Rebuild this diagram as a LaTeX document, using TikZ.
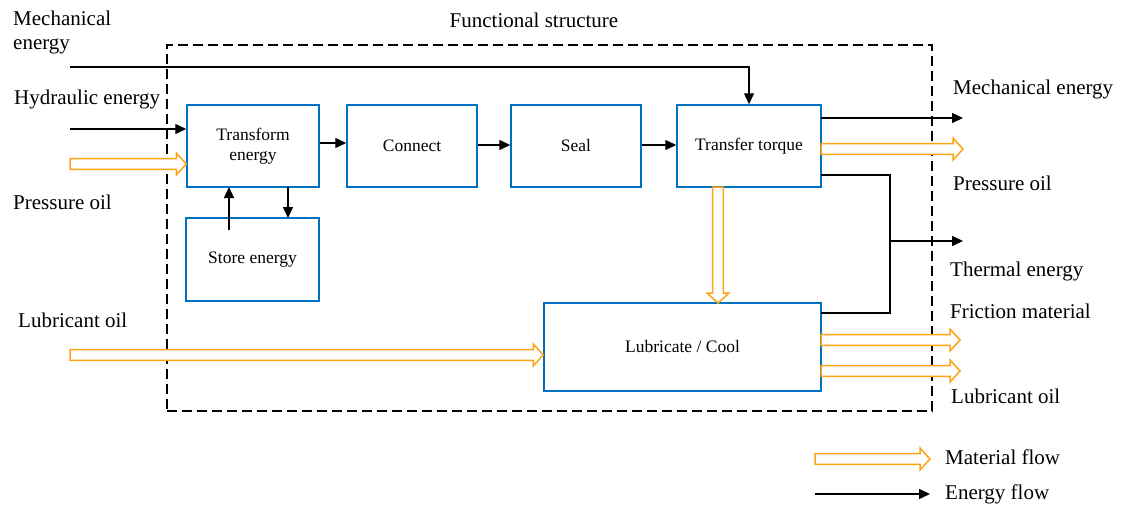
\documentclass[tikz,border=0pt]{standalone}
\usepackage{fontspec}
\setmainfont{Liberation Serif}
\usetikzlibrary{arrows.meta,calc,shadows}
\definecolor{boxblue}{RGB}{0,112,192}
\definecolor{oilorange}{RGB}{255,162,20}
\tikzset{
  fbox/.style={draw=boxblue, line width=1.5pt, fill=white, align=center,
    font=\fontsize{17.5}{20}\selectfont,
    drop shadow={opacity=0.25, shadow xshift=1.2pt, shadow yshift=-1.2pt}},
  eflow/.style={draw=black, line width=1.4pt, -{Triangle[length=11pt,width=10pt]}},
  eline/.style={draw=black, line width=1.4pt},
  mflow/.style={draw=oilorange, line width=1.5pt, fill=white, line join=miter},
  lbl/.style={font=\fontsize{21}{24}\selectfont, anchor=west, inner sep=0pt},
  frame/.style={draw=black, line width=1.5pt, dash pattern=on 10pt off 5pt}
}
\newcommand\mflowh[2]{%
  \draw[mflow] let \p1=(#1), \p2=(#2) in
    (\x1,\y1+5.3pt) -- (\x2-10pt,\y1+5.3pt) -- (\x2-10pt,\y1+11pt) -- (\x2,\y1)
    -- (\x2-10pt,\y1-11pt) -- (\x2-10pt,\y1-5.3pt) -- (\x1,\y1-5.3pt) -- cycle;}
\newcommand\mflowv[2]{%
  \draw[mflow] let \p1=(#1), \p2=(#2) in
    (\x1-5.3pt,\y1) -- (\x1-5.3pt,\y2+10pt) -- (\x1-11pt,\y2+10pt) -- (\x1,\y2)
    -- (\x1+11pt,\y2+10pt) -- (\x1+5.3pt,\y2+10pt) -- (\x1+5.3pt,\y1) -- cycle;}
\begin{document}
\begin{tikzpicture}[x=1pt,y=-1pt]
\useasboundingbox (0,0) rectangle (1121,506);
% frame
\node[frame, minimum width=765pt, minimum height=366pt, inner sep=0pt] (fr) at (549.5,228) {};
\node[font=\fontsize{21}{24}\selectfont, inner sep=0pt] (ftitle) at (534,20) {Functional structure};
% boxes
\node[fbox, minimum width=132pt, minimum height=82pt] (te) at (253,146) {Transform\\energy};
\node[fbox, minimum width=130pt, minimum height=82pt] (cn) at (412,146) {Connect};
\node[fbox, minimum width=130pt, minimum height=82pt] (se) at (576,146) {Seal};
\node[fbox, minimum width=144pt, minimum height=82pt] (tt) at (749,146) {Transfer torque};
\node[fbox, minimum width=133pt, minimum height=83pt] (st) at (252.5,259.5) {Store energy};
\node[fbox, minimum width=277pt, minimum height=88pt] (lc) at (682.5,347) {Lubricate / Cool};
% left labels
\node[lbl, align=left] (lme) at (13,32) {Mechanical\\energy};
\node[lbl] (lhe) at (14,99) {Hydraulic energy};
\node[lbl] (lpo) at (13,202) {Pressure oil};
\node[lbl] (llo) at (18,320) {Lubricant oil};
% right labels
\node[lbl] (rme) at (953,89) {Mechanical energy};
\node[lbl] (rpo) at (953,183) {Pressure oil};
\node[lbl] (rte) at (950,271) {Thermal energy};
\node[lbl] (rfm) at (950,311) {Friction material};
\node[lbl] (rlo) at (951,396) {Lubricant oil};
% legend
\node[lbl] (lgm) at (945,457) {Material flow};
\node[lbl] (lge) at (945,494) {Energy flow};
% coordinates
\coordinate (mi) at (70,67);
\coordinate (hi) at (70,129);
\coordinate (pi) at (70,164);
\coordinate (li) at (70,355);
\coordinate (omech) at (963,118);
\coordinate (tte1) at (821,118);
\coordinate (tte2) at (821,149);
\coordinate (opo) at (963,149);
\coordinate (tte3) at (821,175);
\coordinate (jx) at (890,175);
\coordinate (jy) at (890,313);
\coordinate (lce1) at (821,313);
\coordinate (jth) at (890,241);
\coordinate (oth) at (963,241);
\coordinate (lce2) at (821,340);
\coordinate (ofm) at (960,340);
\coordinate (lce3) at (821,371);
\coordinate (olo) at (960,371);
\coordinate (tts) at (718,187);
\coordinate (lcn) at (718,303);
\coordinate (stup) at (229,230);
\coordinate (teup) at (229,187);
\coordinate (tedn) at (288,187);
\coordinate (stdn) at (288,218);
\coordinate (lgm1) at (815,459);
\coordinate (lgm2) at (930,459);
\coordinate (lge1) at (815,494);
\coordinate (lge2) at (930,494);
% energy flows
\draw[eflow] (mi) -| (tt.north);
\draw[eflow] (hi) -- (hi -| te.west);
\draw[eflow] ([yshift=3pt]te.east) -- ([yshift=3pt]cn.west);
\draw[eflow] ([yshift=1pt]cn.east) -- ([yshift=1pt]se.west);
\draw[eflow] ([yshift=1pt]se.east) -- ([yshift=1pt]tt.west);
\draw[eflow] (stup) -- (teup);
\draw[eflow] (tedn) -- (stdn);
\draw[eflow] (tte1) -- (omech);
\draw[eline] (tte3) -- (jx) -- (jy) -- (lce1);
\draw[eflow] (jth) -- (oth);
\draw[eflow] (lge1) -- (lge2);
% material flows
\mflowh{pi}{pi -| te.west}
\mflowh{tte2}{opo}
\mflowv{tts}{lcn}
\mflowh{li}{li -| lc.west}
\mflowh{lce2}{ofm}
\mflowh{lce3}{olo}
\mflowh{lgm1}{lgm2}
\end{tikzpicture}
\end{document}
